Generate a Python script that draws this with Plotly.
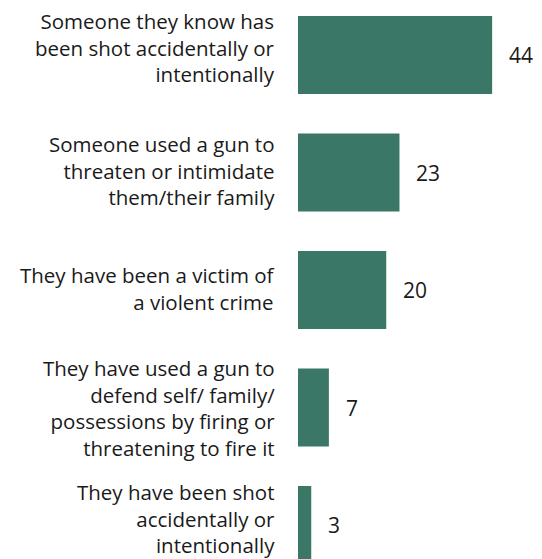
import plotly.graph_objects as go

categories = [
    "Someone they know has<br>been shot accidentally or<br>intentionally",
    "Someone used a gun to<br>threaten or intimidate<br>them/their family",
    "They have been a victim of<br>a violent crime",
    "They have used a gun to<br>defend self/ family/<br>possessions by firing or<br>threatening to fire it",
    "They have been shot<br>accidentally or<br>intentionally",
]
values = [44, 23, 20, 7, 3]

BAR_COLOR = "#3a7767"
TEXT_COLOR = "#1a1a1a"
FONT = "Open Sans, Arial, sans-serif"
LABEL_YSHIFT = [8, 2, 2, 0, 7]

idx = list(range(len(categories)))

fig = go.Figure(
    go.Bar(
        x=values,
        y=idx,
        orientation="h",
        marker=dict(color=BAR_COLOR, line=dict(width=0)),
        width=0.665,
        hoverinfo="skip",
    )
)

annotations = []
for i, (c, v) in enumerate(zip(categories, values)):
    annotations.append(dict(
        x=0, xref="paper", y=i, yref="y", text=c, showarrow=False,
        xanchor="right", yanchor="middle", align="right", xshift=-21,
        yshift=LABEL_YSHIFT[i],
        font=dict(family=FONT, size=20.5, color=TEXT_COLOR),
    ))
    annotations.append(dict(
        x=v, xref="x", y=i, yref="y", text=str(v), showarrow=False,
        xanchor="left", yanchor="middle", xshift=15,
        font=dict(family=FONT, size=21, color=TEXT_COLOR),
    ))

fig.update_layout(
    width=534, height=551,
    margin=dict(l=290, r=0, t=0, b=0),
    paper_bgcolor="white", plot_bgcolor="white",
    showlegend=False,
    xaxis=dict(range=[0, 55.3], visible=False, fixedrange=True),
    yaxis=dict(range=[4.289, -0.4], visible=False, fixedrange=True),
    annotations=annotations,
)

fig.write_html("out.html")
